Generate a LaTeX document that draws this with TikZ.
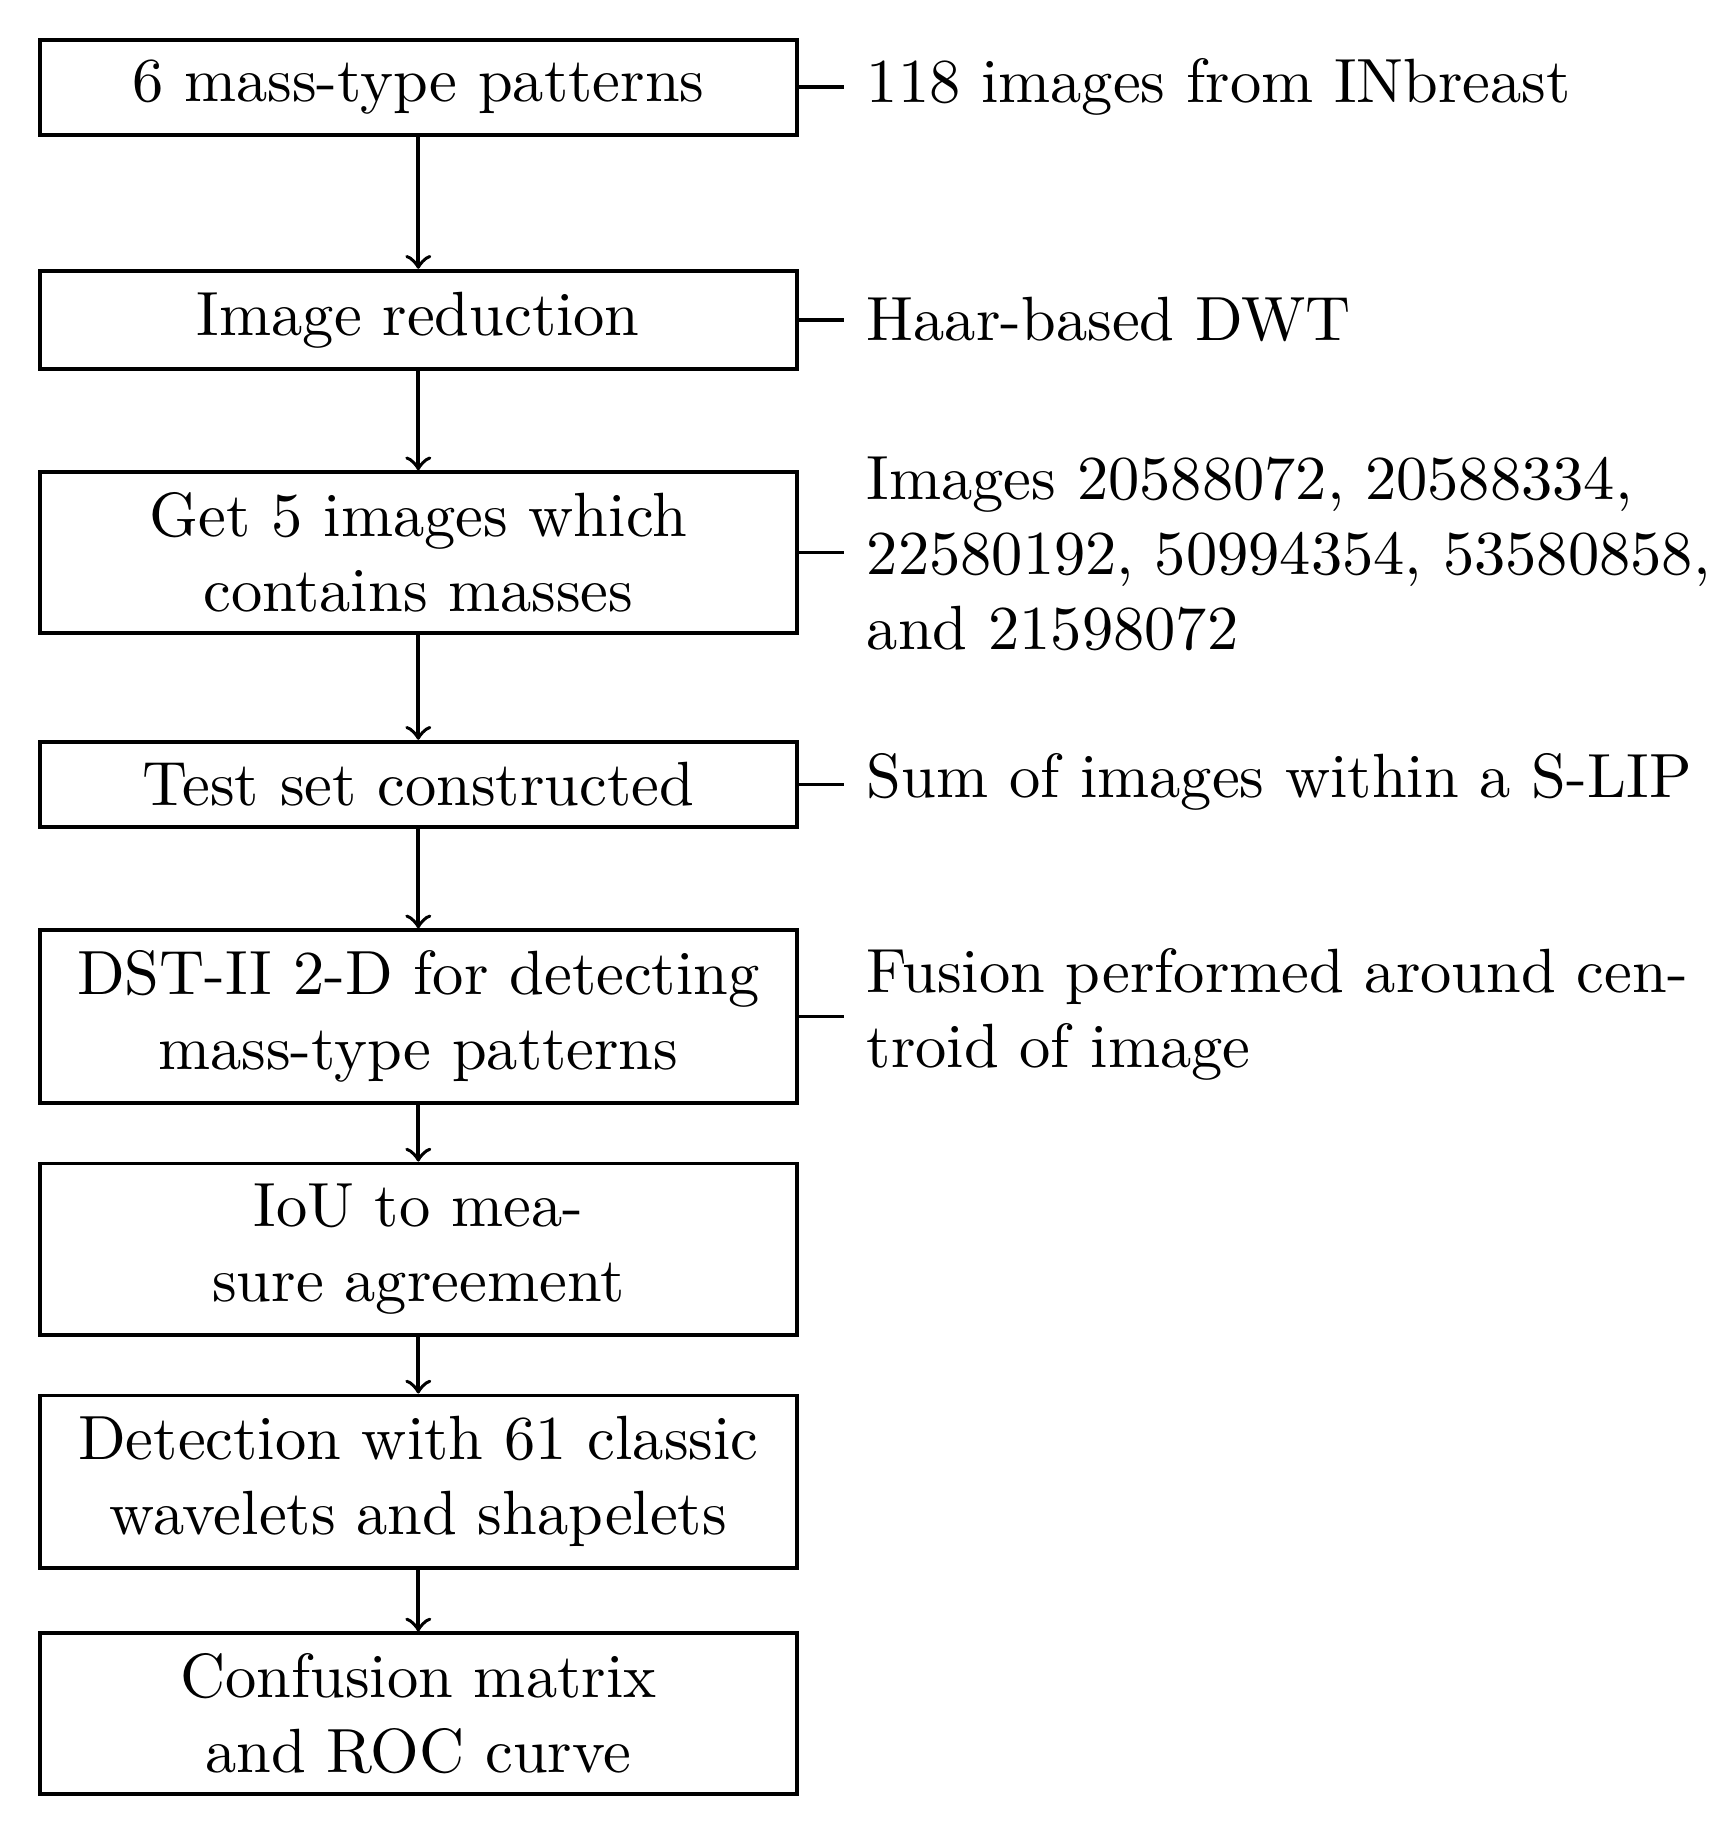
\documentclass[tikz,border=0pt]{standalone}
\begin{document}
\begin{tikzpicture}[x=0.1875pt,y=-0.1875pt,line width=0.6pt,
  box/.style={draw,minimum width=121.1pt,inner sep=0pt,align=center,font=\fontsize{10}{12}\selectfont},
  lab/.style={anchor=west,inner xsep=3.4pt,inner ysep=0pt,align=left,font=\fontsize{10}{12}\selectfont},
  arr/.style={->}]
\useasboundingbox (0,0) rectangle (1470,1555);
\node[box,minimum height=15.2pt] (b1) at (357,74.5) {6 mass-type patterns};
\node[box,minimum height=15.75pt] (b2) at (357,273) {Image reduction};
\node[box,minimum height=25.7pt] (b3) at (357,471.5) {Get 5 images which\\contains masses};
\node[box,minimum height=13.7pt] (b4) at (357,669.5) {Test set constructed};
\node[box,minimum height=27.6pt] (b5) at (357,867.5) {DST-II 2-D for detecting\\mass-type patterns};
\node[box,minimum height=27.4pt] (b6) at (357,1066) {IoU to mea-\\sure agreement};
\node[box,minimum height=27.6pt] (b7) at (357,1264.5) {Detection with 61 classic\\wavelets and shapelets};
\node[box,minimum height=25.7pt] (b8) at (357,1462.5) {Confusion matrix\\and ROC curve};
\node[lab] (l1) at (720,74.5) {118 images from INbreast};
\node[lab] (l2) at (720,273) {Haar-based DWT};
\node[lab] (l3) at (720,473) {Images 20588072, 20588334,\\22580192, 50994354, 53580858,\\and 21598072};
\node[lab] (l4) at (720,667) {Sum of images within a S-LIP};
\node[lab] (l5) at (720,866) {Fusion performed around cen-\\troid of image};
\foreach \i/\j in {1/2,2/3,3/4,4/5,5/6,6/7,7/8} \draw[arr] (b\i) -- (b\j);
\foreach \i in {1,...,5} \draw (b\i.east) -- (b\i.east -| l\i.west);
\end{tikzpicture}
\end{document}
